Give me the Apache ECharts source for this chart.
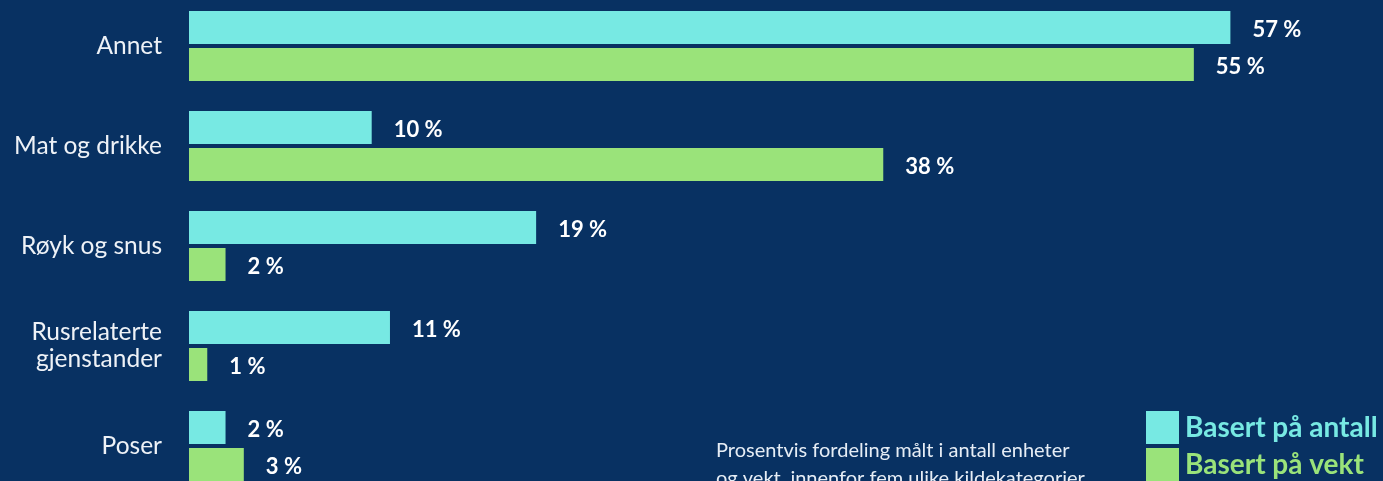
<!DOCTYPE html>
<html>
<head>
<meta charset="utf-8">
<script src="https://cdn.jsdelivr.net/npm/echarts@6/dist/echarts.min.js"></script>
<style>
  html, body { margin: 0; padding: 0; background: #083162; }
  #chart { width: 1383px; height: 481px; }
</style>
</head>
<body>
<div id="chart"></div>
<script>
// Kildekategorier og andeler (prosent)
const categories = ['Annet', 'Mat og drikke', 'Røyk og snus', 'Rusrelaterte\ngjenstander', 'Poser'];
const antall = [57, 10, 19, 11, 2];
const vekt = [55, 38, 2, 1, 3];
const seriesNames = ['Basert på antall', 'Basert på vekt'];
const footnote = 'Prosentvis fordeling målt i antall enheter\nog vekt, innenfor fem ulike kildekategorier.';

const CYAN = '#77e9e3';
const GREEN = '#9ae37a';

const chart = echarts.init(document.getElementById('chart'), null, { renderer: 'canvas' });

const valueLabel = {
  show: true,
  position: 'right',
  distance: 22,
  offset: [0, 2],
  formatter: '{c} %',
  color: '#ffffff',
  fontFamily: 'Lato',
  fontWeight: 'bold',
  fontSize: 22
};

chart.setOption({
  backgroundColor: '#083162',
  animation: false,
  title: {
    text: footnote,
    left: 716,
    top: 437,
    padding: 0,
    textStyle: {
      color: '#e6edf5',
      fontFamily: 'Lato',
      fontWeight: 'normal',
      fontSize: 20,
      lineHeight: 28
    }
  },
  legend: {
    orient: 'vertical',
    left: 1146,
    top: 411,
    itemWidth: 33,
    itemHeight: 33,
    itemGap: 4,
    icon: 'rect',
    padding: 0,
    data: [
      { name: seriesNames[0], textStyle: { color: CYAN } },
      { name: seriesNames[1], textStyle: { color: GREEN } }
    ],
    textStyle: {
      fontFamily: 'Lato',
      fontWeight: 'bold',
      fontSize: 28,
      padding: [0, 0, 0, 1]
    }
  },
  grid: {
    left: 189,
    top: -4,
    width: 60 * 18.27,
    height: 500,
    containLabel: false,
    outerBoundsMode: 'none'
  },
  xAxis: {
    type: 'value',
    min: 0,
    max: 60,
    show: false
  },
  yAxis: {
    type: 'category',
    data: categories,
    inverse: true,
    axisLine: { show: false },
    axisTick: { show: false },
    splitLine: { show: false },
    axisLabel: {
      margin: 27,
      color: '#eef2f7',
      fontFamily: 'Lato',
      fontSize: 24.5,
      lineHeight: 27,
      align: 'right'
    }
  },
  series: [
    {
      name: seriesNames[0],
      type: 'bar',
      data: antall,
      barWidth: 33,
      barGap: '12%',
      itemStyle: { color: CYAN },
      label: valueLabel
    },
    {
      name: seriesNames[1],
      type: 'bar',
      data: vekt,
      barWidth: 33,
      barGap: '12%',
      itemStyle: { color: GREEN },
      label: valueLabel
    }
  ]
});
</script>
</body>
</html>
